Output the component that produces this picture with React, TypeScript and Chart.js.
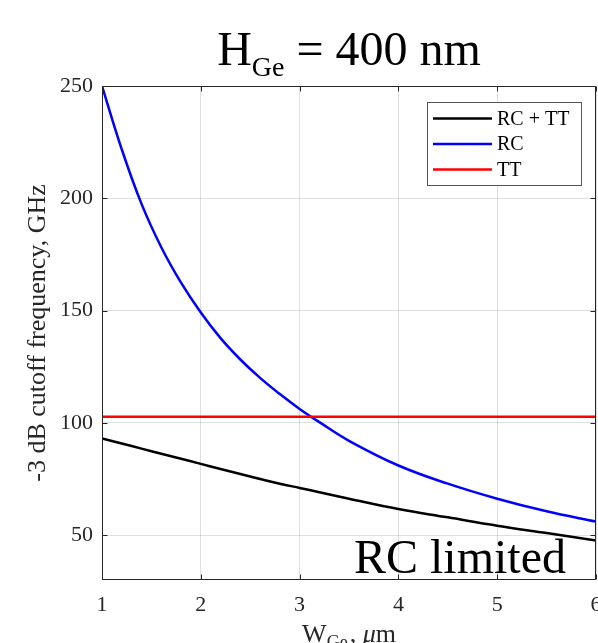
import React, { useEffect, useRef } from "react";
import { Chart, registerables } from "chart.js";

Chart.register(...registerables);

// ---- data ----
const widths = [1, 1.2, 1.4, 1.6, 1.8, 2, 2.2, 2.4, 2.6, 2.8, 3, 3.2, 3.5, 4, 4.5, 5, 5.5, 6];
const rcTT = [93, 90.8, 88.5, 86.2, 84, 81.7, 79.4, 77.2, 75, 72.9, 71, 69.1, 66.2, 61.6, 57.9, 54.2, 50.9, 47.6];
const rc = [250, 221.8, 197.5, 178.2, 162.4, 149.1, 137.7, 128.2, 120, 112.8, 106.2, 100.3, 92, 81, 72.9, 66.2, 60.6, 56];
const ttWidths = [1, 6];
const tt = [102.7, 102.7];

const xTicks = [1, 2, 3, 4, 5, 6];
const yTicks = [50, 100, 150, 200, 250];

const seriesLabels = ["RC + TT", "RC", "TT"];
const seriesColors = ["#000000", "#0000ff", "#ff0000"];

const SERIF = '"Liberation Serif", "Times New Roman", serif';
const AXIS = "#262626";

const decorPlugin = {
  id: "decor",
  afterDatasetsDraw(chart: any) {
    const { ctx, chartArea: a, scales } = chart;
    const xs = scales.x;
    const ys = scales.y;
    ctx.save();

    // axes box
    const L = Math.round(a.left) + 0.5;
    const R = Math.round(a.right) - 0.5;
    const T = Math.round(a.top) + 0.5;
    const B = Math.round(a.bottom) - 0.5;
    ctx.strokeStyle = AXIS;
    ctx.lineWidth = 1;
    ctx.beginPath();
    ctx.rect(L, T, R - L, B - T);
    ctx.stroke();

    // inward tick marks
    const tl = 5;
    ctx.beginPath();
    xTicks.forEach((v) => {
      const px = Math.round(xs.getPixelForValue(v)) + 0.5;
      ctx.moveTo(px, B);
      ctx.lineTo(px, B - tl);
      ctx.moveTo(px, T);
      ctx.lineTo(px, T + tl);
    });
    yTicks.forEach((v) => {
      const py = Math.round(ys.getPixelForValue(v)) + 0.5;
      ctx.moveTo(L, py);
      ctx.lineTo(L + tl, py);
      ctx.moveTo(R, py);
      ctx.lineTo(R - tl, py);
    });
    ctx.stroke();

    // legend
    ctx.font = `20px ${SERIF}`;
    const textW = Math.max(...seriesLabels.map((s) => ctx.measureText(s).width));
    const lineLen = 59;
    const boxW = Math.max(154, 6 + lineLen + 5 + textW + 8);
    const boxRight = a.right - 15;
    const boxLeft = boxRight - boxW;
    const boxTop = a.top + 16;
    const rowH = 25.5;
    const boxH = 83;
    ctx.fillStyle = "#ffffff";
    ctx.fillRect(boxLeft, boxTop, boxW, boxH);
    ctx.strokeStyle = "#555555";
    ctx.lineWidth = 1;
    ctx.strokeRect(Math.round(boxLeft) + 0.5, Math.round(boxTop) + 0.5, Math.round(boxW), Math.round(boxH));
    chart.data.datasets.forEach((ds: any, i: number) => {
      const yRow = boxTop + 16.5 + i * rowH;
      ctx.strokeStyle = ds.borderColor;
      ctx.lineWidth = 2.5;
      ctx.beginPath();
      ctx.moveTo(boxLeft + 6, yRow);
      ctx.lineTo(boxLeft + 6 + lineLen, yRow);
      ctx.stroke();
      ctx.fillStyle = "#000000";
      ctx.textBaseline = "middle";
      ctx.textAlign = "left";
      ctx.font = `20px ${SERIF}`;
      ctx.fillText(ds.label, boxLeft + 6 + lineLen + 5, yRow + 1);
    });

    // "RC limited" annotation
    ctx.font = `48px ${SERIF}`;
    ctx.fillStyle = "#000000";
    ctx.textBaseline = "alphabetic";
    ctx.textAlign = "left";
    ctx.fillText("RC limited", xs.getPixelForValue(3.55), ys.getPixelForValue(33));

    ctx.restore();
  },
  afterDraw(chart: any) {
    const { ctx, chartArea: a } = chart;
    const cx = (a.left + a.right) / 2;
    ctx.save();
    ctx.fillStyle = "#000000";
    ctx.textBaseline = "alphabetic";
    ctx.textAlign = "left";

    // title: H_Ge = 400 nm
    ctx.font = `48px ${SERIF}`;
    const wH = ctx.measureText("H").width;
    const wRest = ctx.measureText(" = 400 nm").width;
    ctx.font = `28px ${SERIF}`;
    const wSub = ctx.measureText("Ge").width;
    const sx = cx - (wH + wSub + wRest) / 2;
    ctx.font = `48px ${SERIF}`;
    ctx.fillText("H", sx, 65);
    ctx.font = `28px ${SERIF}`;
    ctx.fillText("Ge", sx + wH, 76);
    ctx.font = `48px ${SERIF}`;
    ctx.fillText(" = 400 nm", sx + wH + wSub, 65);

    // x label: W_Ge, μm
    ctx.fillStyle = AXIS;
    ctx.font = `26px ${SERIF}`;
    const wW = ctx.measureText("W").width;
    const wComma = ctx.measureText(", ").width;
    const wm = ctx.measureText("m").width;
    ctx.font = `italic 26px ${SERIF}`;
    const wMu = ctx.measureText("μ").width;
    ctx.font = `18px ${SERIF}`;
    const wGe = ctx.measureText("Ge").width;
    const gap = 2;
    const total = wW + wGe + gap + wComma + wMu + wm;
    let px = cx - total / 2;
    const base = 642;
    ctx.font = `26px ${SERIF}`;
    ctx.fillText("W", px, base);
    px += wW;
    ctx.font = `18px ${SERIF}`;
    ctx.fillText("Ge", px, base + 6);
    px += wGe + gap;
    ctx.font = `26px ${SERIF}`;
    ctx.fillText(", ", px, base);
    px += wComma;
    ctx.font = `italic 26px ${SERIF}`;
    ctx.fillText("μ", px, base);
    px += wMu;
    ctx.font = `26px ${SERIF}`;
    ctx.fillText("m", px, base);

    ctx.restore();
  },
};

export default function App() {
  const ref = useRef<HTMLCanvasElement>(null);

  useEffect(() => {
    if (!ref.current) return;
    const mk = (xArr: number[], yArr: number[]) => xArr.map((x, i) => ({ x, y: yArr[i] }));
    const chart = new Chart(ref.current, {
      type: "line",
      data: {
        datasets: [
          {
            label: seriesLabels[0],
            data: mk(widths, rcTT),
            borderColor: seriesColors[0],
            backgroundColor: seriesColors[0],
            borderWidth: 2.5,
            pointRadius: 0,
            tension: 0.4,
            order: 2,
          },
          {
            label: seriesLabels[1],
            data: mk(widths, rc),
            borderColor: seriesColors[1],
            backgroundColor: seriesColors[1],
            borderWidth: 2.5,
            pointRadius: 0,
            tension: 0.4,
            order: 1,
          },
          {
            label: seriesLabels[2],
            data: mk(ttWidths, tt),
            borderColor: seriesColors[2],
            backgroundColor: seriesColors[2],
            borderWidth: 2.5,
            pointRadius: 0,
            order: 0,
          },
        ],
      },
      options: {
        animation: false,
        responsive: false,
        devicePixelRatio: 1,
        layout: { padding: { top: 86, right: 2, left: 0, bottom: 0 } },
        plugins: {
          legend: { display: false },
          tooltip: { enabled: false },
          title: { display: false },
        },
        scales: {
          x: {
            type: "linear",
            min: 1,
            max: 6,
            afterBuildTicks: (s: any) => {
              s.ticks = xTicks.map((v) => ({ value: v }));
            },
            afterFit: (s: any) => {
              s.height = 63;
              s.paddingLeft = 0;
              s.paddingRight = 0;
            },
            ticks: {
              font: { family: SERIF, size: 22 },
              color: AXIS,
              padding: 12,
              maxRotation: 0,
              autoSkip: false,
            },
            grid: { color: "rgba(38,38,38,0.15)", drawTicks: false },
            border: { display: false },
          },
          y: {
            type: "linear",
            min: 30,
            max: 250,
            afterBuildTicks: (s: any) => {
              s.ticks = yTicks.map((v) => ({ value: v }));
            },
            afterFit: (s: any) => {
              s.width = 102;
              s.paddingTop = 0;
              s.paddingBottom = 0;
            },
            ticks: {
              font: { family: SERIF, size: 22 },
              color: AXIS,
              padding: 9,
              autoSkip: false,
            },
            grid: { color: "rgba(38,38,38,0.15)", drawTicks: false },
            border: { display: false },
            title: {
              display: true,
              text: "-3 dB cutoff frequency, GHz",
              font: { family: SERIF, size: 26 },
              color: AXIS,
              padding: { top: 23, bottom: 0 },
            },
          },
        },
      },
      plugins: [decorPlugin],
    } as any);
    return () => chart.destroy();
  }, []);

  return (
    <div style={{ position: "absolute", left: 0, top: 0, width: 598, height: 643, background: "#ffffff" }}>
      <canvas ref={ref} width={598} height={643} style={{ display: "block" }} />
    </div>
  );
}
